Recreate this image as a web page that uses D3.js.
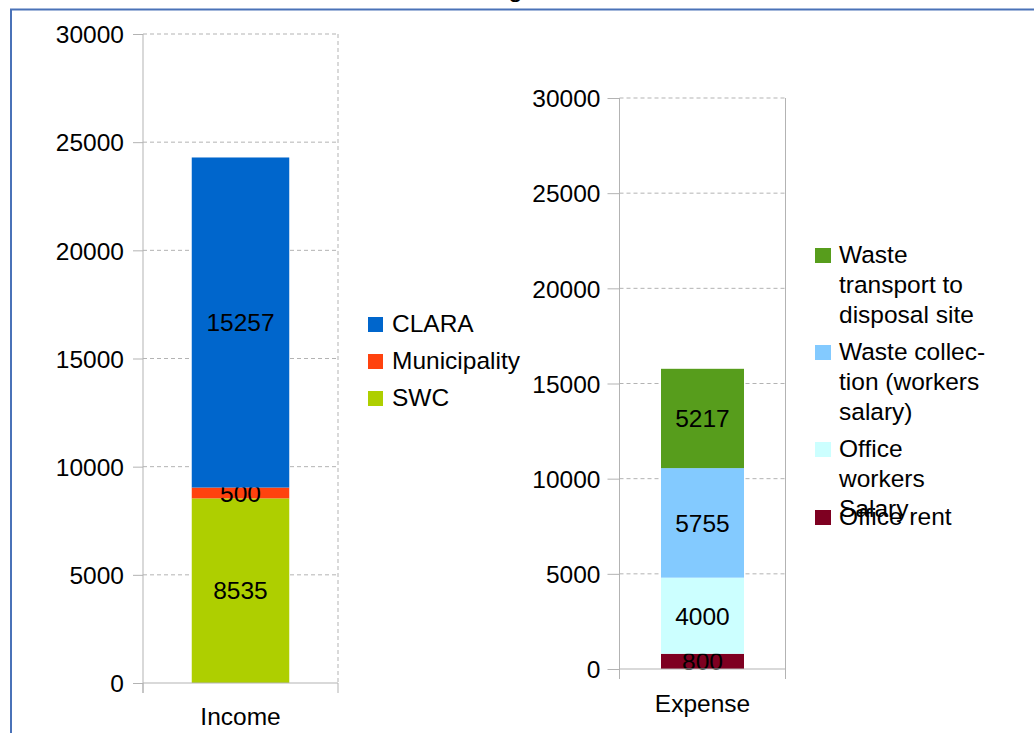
<!DOCTYPE html>
<html>
<head>
<meta charset="utf-8">
<script src="https://cdn.jsdelivr.net/npm/d3@7"></script>
<style>
  body { margin: 0; background: #fff; }
  svg { display: block; font-family: "Liberation Sans", Arial, sans-serif; }
</style>
</head>
<body>
<svg id="chart" width="1034" height="733"></svg>
<script>
// income side
const incomeCategory = ["Income"];
const incomeSeries = ["SWC", "Municipality", "CLARA"];
const incomeValues = [8535, 500, 15257];
const incomeColors = ["#aecf00", "#ff420e", "#0066cc"];

// expense side
const expenseCategory = ["Expense"];
const expenseSeries = ["Office rent", "Office workers Salary", "Waste collection (workers salary)", "Waste transport to disposal site"];
const expenseValues = [800, 4000, 5755, 5217];
const expenseColors = ["#7e0021", "#ccffff", "#83caff", "#579d1c"];
// legend lines as they wrap in the picture (top entry first)
const expenseLegendLines = [
  ["Waste", "transport to", "disposal site"],
  ["Waste collec-", "tion (workers", "salary)"],
  ["Office", "workers", "Salary"],
  ["Office rent"]
];

const yTicks = [0, 5000, 10000, 15000, 20000, 25000, 30000];

const svg = d3.select("#chart");
const gridColor = "#b3b3b3";
const fs = 24.5;

// frame around the chart (partly off screen)
svg.append("path")
  .attr("d", "M11,733V9.5H1034")
  .attr("fill", "none")
  .attr("stroke", "#4a72b8")
  .attr("stroke-width", 2);

// title, mostly cut off above the view
svg.append("text")
  .attr("x", 462).attr("y", -3)
  .attr("font-size", 26)
  .text("Budget");

function drawStack(opts) {
  const x = d3.scaleBand()
    .domain(opts.category)
    .range([opts.left, opts.right])
    .paddingInner(0.5)
    .paddingOuter(0.25);
  const y = d3.scaleLinear().domain([0, 30000]).range([opts.bottom, opts.top]);

  const g = svg.append("g");

  // dashed grid lines
  g.selectAll(".grid")
    .data(yTicks.slice(1))
    .enter().append("line")
    .attr("x1", opts.left).attr("x2", opts.right)
    .attr("y1", d => y(d)).attr("y2", d => y(d))
    .attr("stroke", gridColor)
    .attr("stroke-dasharray", "4,3");

  // right border of plot area
  g.append("line")
    .attr("x1", opts.right).attr("x2", opts.right)
    .attr("y1", opts.top).attr("y2", opts.bottom)
    .attr("stroke", gridColor)
    .attr("stroke-dasharray", opts.dashRight ? "4,3" : null);

  // stacked segments
  const row = {};
  opts.series.forEach((s, i) => { row[s] = opts.values[i]; });
  const stacked = d3.stack().keys(opts.series)([row]);

  const seg = g.selectAll(".seg")
    .data(stacked)
    .enter().append("g");

  seg.append("rect")
    .attr("x", x(opts.category[0]))
    .attr("width", x.bandwidth())
    .attr("y", d => y(d[0][1]))
    .attr("height", d => y(d[0][0]) - y(d[0][1]))
    .attr("fill", (d, i) => opts.colors[i]);

  seg.append("text")
    .attr("x", x(opts.category[0]) + x.bandwidth() / 2)
    .attr("y", d => (y(d[0][0]) + y(d[0][1])) / 2)
    .attr("dy", "0.36em")
    .attr("text-anchor", "middle")
    .attr("font-size", fs)
    .attr("fill", "#000")
    .text((d, i) => opts.values[i]);

  // y axis
  const yAxis = g.append("g")
    .attr("transform", `translate(${opts.left},0)`)
    .call(d3.axisLeft(y).tickValues(yTicks).tickFormat(d3.format("d"))
      .tickSize(opts.tickLen).tickPadding(opts.tickPad));
  yAxis.select(".domain").attr("stroke", gridColor).attr("d", `M0,${opts.top}V${opts.bottom + 10}`);
  yAxis.selectAll(".tick line").attr("stroke", gridColor);
  yAxis.selectAll(".tick text")
    .attr("font-size", fs)
    .attr("font-family", "Liberation Sans, Arial, sans-serif")
    .attr("fill", "#000")
    .attr("dy", "0.36em");

  // x axis
  const xAxis = g.append("g")
    .attr("transform", `translate(0,${opts.bottom})`)
    .call(d3.axisBottom(x).tickSize(0).tickPadding(opts.labelOffset));
  xAxis.select(".domain").attr("stroke", gridColor).attr("d", `M${opts.left},0H${opts.right}V10M${opts.left},0V10`);
  xAxis.selectAll(".tick text")
    .attr("font-size", fs)
    .attr("font-family", "Liberation Sans, Arial, sans-serif")
    .attr("fill", "#000")
    .attr("dy", 0)
    .attr("y", opts.labelOffset);
}

drawStack({
  category: incomeCategory, series: incomeSeries, values: incomeValues, colors: incomeColors,
  left: 143, right: 338, top: 34, bottom: 683, tickLen: 10, tickPad: 9, labelOffset: 42, dashRight: true
});

drawStack({
  category: expenseCategory, series: expenseSeries, values: expenseValues, colors: expenseColors,
  left: 619.5, right: 785.5, top: 98, bottom: 669, tickLen: 12, tickPad: 7, labelOffset: 43, dashRight: false
});

// income legend (top entry = top segment)
const leg1 = svg.append("g");
const leg1Items = incomeSeries.map((s, i) => ({ name: s, color: incomeColors[i] })).reverse();
leg1Items.forEach((d, i) => {
  const base = 332 + i * 37;
  leg1.append("rect")
    .attr("x", 368).attr("y", base - 15)
    .attr("width", 15).attr("height", 15)
    .attr("fill", d.color);
  leg1.append("text")
    .attr("x", 392).attr("y", base)
    .attr("font-size", fs)
    .text(d.name);
});

// expense legend
const leg2 = svg.append("g");
const leg2Base = [263, 360, 457, 525];
const leg2Colors = expenseColors.slice().reverse();
expenseLegendLines.forEach((lines, i) => {
  const base = leg2Base[i];
  leg2.append("rect")
    .attr("x", 815).attr("y", base - 15)
    .attr("width", 16).attr("height", 15)
    .attr("fill", leg2Colors[i]);
  lines.forEach((t, j) => {
    leg2.append("text")
      .attr("x", 839).attr("y", base + j * 30)
      .attr("font-size", fs)
      .text(t);
  });
});
</script>
</body>
</html>
